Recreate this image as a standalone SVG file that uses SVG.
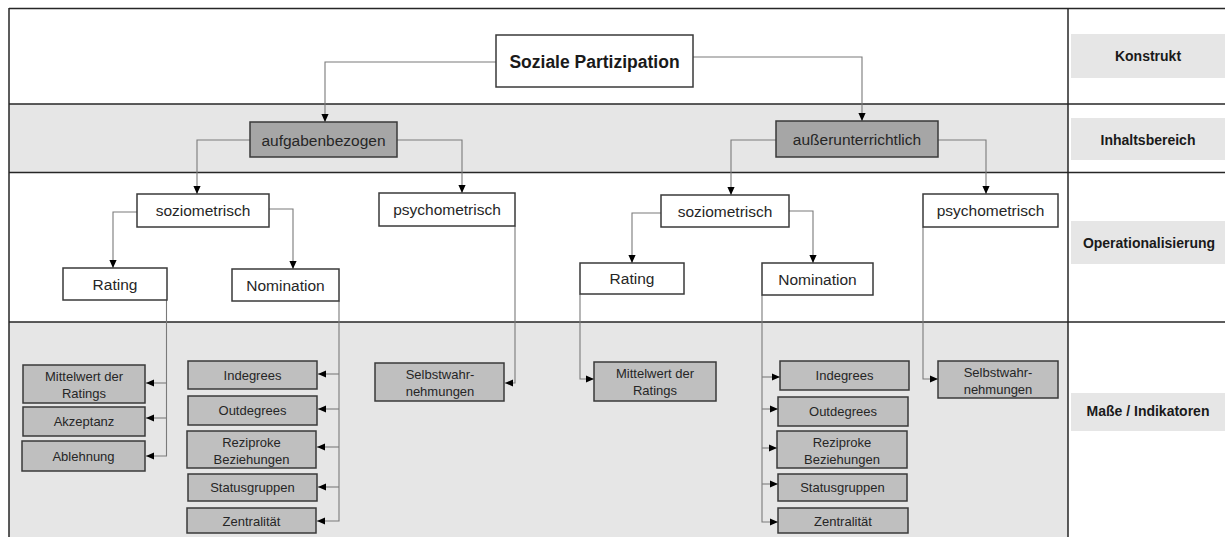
<svg xmlns="http://www.w3.org/2000/svg" width="1225" height="537" viewBox="0 0 1225 537">
<defs>
<style>
.frame{stroke:#262626;stroke-width:1.5;fill:none}
.band{fill:#e6e6e6}
.box{fill:#ffffff;stroke:#3a3a3a;stroke-width:1.5}
.dk{fill:#a6a6a6;stroke:#3a3a3a;stroke-width:1.5}
.ms{fill:#bfbfbf;stroke:#3a3a3a;stroke-width:1.5}
.lab{fill:#e6e6e6}
text{font-family:"Liberation Sans",Arial,sans-serif;fill:#262626;text-anchor:middle;dominant-baseline:central}
.t16{font-size:15.5px}
.t13{font-size:13px}
.tb{font-size:17.5px;font-weight:bold;fill:#1a1a1a}
.tl{font-size:14px;font-weight:bold;fill:#1a1a1a}
.c{fill:none;stroke:#7a7a7a;stroke-width:1.1}
.ca{fill:none;stroke:#7a7a7a;stroke-width:1.1;marker-end:url(#ah)}
</style>
<marker id="ah" viewBox="0 0 10 10" refX="10" refY="5" markerWidth="8" markerHeight="8" markerUnits="userSpaceOnUse" orient="auto">
<path d="M0,0.5 L10,5 L0,9.5 z" fill="#000"/>
</marker>
</defs>
<rect width="1225" height="537" fill="#ffffff"/>
<g id="bands">
<rect class="band" x="9" y="104" width="1059" height="68.5"/>
<rect class="band" x="9" y="322" width="1059" height="215"/>
<line class="frame" x1="9" y1="8.5" x2="1225" y2="8.5"/>
<line class="frame" x1="9" y1="104" x2="1225" y2="104"/>
<line class="frame" x1="9" y1="172.5" x2="1225" y2="172.5"/>
<line class="frame" x1="9" y1="322" x2="1225" y2="322"/>
<line class="frame" x1="9" y1="8" x2="9" y2="537"/>
<line class="frame" x1="1068" y1="8" x2="1068" y2="537"/>
</g>
<g id="labels">
<g id="lab-konstrukt"><rect class="lab" x="1071" y="34" width="154" height="44"/><text class="tl" x="1148" y="56">Konstrukt</text></g>
<g id="lab-inhalt"><rect class="lab" x="1071" y="118" width="154" height="42"/><text class="tl" x="1148" y="140">Inhaltsbereich</text></g>
<g id="lab-oper"><rect class="lab" x="1071" y="221" width="154" height="43"/><text class="tl" x="1149" y="243">Operationalisierung</text></g>
<g id="lab-masse"><rect class="lab" x="1071" y="393" width="154" height="38"/><text class="tl" x="1148" y="411">Maße / Indikatoren</text></g>
</g>
<g id="connectors">
<path class="ca" d="M496,62 H325 V122"/>
<path class="ca" d="M693,57 H862 V121"/>
<path class="ca" d="M250,140 H197 V194"/>
<path class="ca" d="M397,140 H462 V193"/>
<path class="ca" d="M776,140 H731 V195"/>
<path class="ca" d="M938,140 H986 V194"/>
<path class="ca" d="M137,212 H113 V268"/>
<path class="ca" d="M269,209 H293 V269"/>
<path class="ca" d="M661,213 H632 V263"/>
<path class="ca" d="M789,211 H813 V263"/>
<path class="ca" d="M166.5,300 V456 H146"/>
<path class="ca" d="M166.5,383 H146"/>
<path class="ca" d="M166.5,418 H146"/>
<path class="ca" d="M339,301 V521 H317"/>
<path class="ca" d="M339,374 H318"/>
<path class="ca" d="M339,409 H318"/>
<path class="ca" d="M339,447 H317"/>
<path class="ca" d="M339,487 H318"/>
<path class="ca" d="M515,226 V383 H505"/>
<path class="ca" d="M580,294 V379 H594"/>
<path class="ca" d="M762,295 V522 H778"/>
<path class="ca" d="M762,377 H780"/>
<path class="ca" d="M762,409 H778"/>
<path class="ca" d="M762,448 H777"/>
<path class="ca" d="M762,484 H778"/>
<path class="ca" d="M923,227 V379 H938"/>
</g>
<g id="n-soziale"><rect class="box" x="496" y="35" width="197" height="52"/><text class="tb" x="594.5" y="62">Soziale Partizipation</text></g>
<g id="n-aufgaben"><rect class="dk" x="250" y="122" width="147" height="35"/><text class="t16" x="323.5" y="140">aufgabenbezogen</text></g>
<g id="n-ausser"><rect class="dk" x="776" y="121" width="162" height="36"/><text class="t16" x="857" y="139.5">außerunterrichtlich</text></g>
<g id="n-sozL"><rect class="box" x="137" y="194" width="132" height="33"/><text class="t16" x="203" y="210.5">soziometrisch</text></g>
<g id="n-psyL"><rect class="box" x="379" y="193" width="136" height="33"/><text class="t16" x="447" y="209.5">psychometrisch</text></g>
<g id="n-sozR"><rect class="box" x="661" y="195" width="128" height="32"/><text class="t16" x="725" y="211">soziometrisch</text></g>
<g id="n-psyR"><rect class="box" x="923" y="194" width="135" height="33"/><text class="t16" x="990.5" y="210.5">psychometrisch</text></g>
<g id="n-ratL"><rect class="box" x="63" y="268" width="104" height="32"/><text class="t16" x="115" y="284">Rating</text></g>
<g id="n-nomL"><rect class="box" x="232" y="269" width="107" height="32"/><text class="t16" x="285.5" y="285">Nomination</text></g>
<g id="n-ratR"><rect class="box" x="580" y="263" width="104" height="31"/><text class="t16" x="632" y="278.5">Rating</text></g>
<g id="n-nomR"><rect class="box" x="762" y="263" width="111" height="32"/><text class="t16" x="817.5" y="279">Nomination</text></g>
<g id="m-mittelL"><rect class="ms" x="23" y="365" width="122" height="38"/><text class="t13" x="84" y="376">Mittelwert der</text><text class="t13" x="84" y="393">Ratings</text></g>
<g id="m-akzeptanz"><rect class="ms" x="23" y="407" width="122" height="29"/><text class="t13" x="84" y="421.5">Akzeptanz</text></g>
<g id="m-ablehnung"><rect class="ms" x="22" y="441" width="123" height="30"/><text class="t13" x="83.5" y="456">Ablehnung</text></g>
<g id="m-indegL"><rect class="ms" x="188" y="361" width="129" height="28"/><text class="t13" x="252.5" y="375">Indegrees</text></g>
<g id="m-outdegL"><rect class="ms" x="188" y="396" width="129" height="29"/><text class="t13" x="252.5" y="410.5">Outdegrees</text></g>
<g id="m-rezL"><rect class="ms" x="187" y="431" width="129" height="37"/><text class="t13" x="251.5" y="442">Reziproke</text><text class="t13" x="251.5" y="459">Beziehungen</text></g>
<g id="m-statusL"><rect class="ms" x="188" y="474" width="129" height="27"/><text class="t13" x="252.5" y="487.5">Statusgruppen</text></g>
<g id="m-zentL"><rect class="ms" x="187" y="508" width="129" height="25"/><text class="t13" x="251.5" y="521">Zentralität</text></g>
<g id="m-selbstL"><rect class="ms" x="375" y="363" width="129" height="38"/><text class="t13" x="440" y="374">Selbstwahr-</text><text class="t13" x="440" y="391">nehmungen</text></g>
<g id="m-mittelR"><rect class="ms" x="594" y="362" width="122" height="39"/><text class="t13" x="655" y="373.5">Mittelwert der</text><text class="t13" x="655" y="390.5">Ratings</text></g>
<g id="m-indegR"><rect class="ms" x="780" y="361" width="129" height="29"/><text class="t13" x="844.5" y="375.5">Indegrees</text></g>
<g id="m-outdegR"><rect class="ms" x="778" y="397" width="130" height="29"/><text class="t13" x="843" y="411.5">Outdegrees</text></g>
<g id="m-rezR"><rect class="ms" x="777" y="431" width="130" height="37"/><text class="t13" x="842" y="442">Reziproke</text><text class="t13" x="842" y="459">Beziehungen</text></g>
<g id="m-statusR"><rect class="ms" x="778" y="474" width="129" height="27"/><text class="t13" x="842.5" y="487.5">Statusgruppen</text></g>
<g id="m-zentR"><rect class="ms" x="778" y="508" width="130" height="25"/><text class="t13" x="843" y="521">Zentralität</text></g>
<g id="m-selbstR"><rect class="ms" x="938" y="361" width="120" height="37"/><text class="t13" x="998" y="372">Selbstwahr-</text><text class="t13" x="998" y="389">nehmungen</text></g>
</svg>
